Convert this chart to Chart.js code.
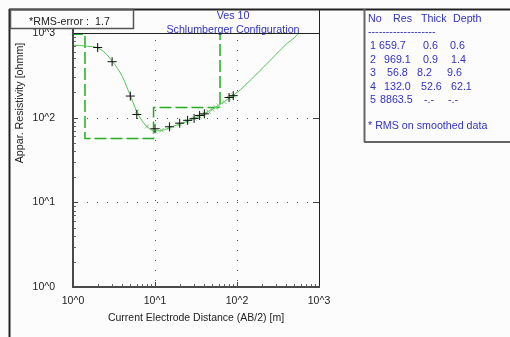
<!DOCTYPE html>
<html><head><meta charset="utf-8">
<script src="https://cdn.jsdelivr.net/npm/chart.js@4"></script>
<style>
html,body{margin:0;padding:0;background:#fff;}
#wrap{position:relative;width:510px;height:337px;background:#fcfcfc;overflow:hidden;font-family:"Liberation Sans",Arial,sans-serif;}
#c{position:absolute;left:0;top:0;}
.t{position:absolute;white-space:pre;font-size:10.7px;line-height:12px;color:#222;}
.b{color:#3232c0;}
</style></head><body>
<div id="wrap">
<canvas id="c" width="510" height="337"></canvas>
</div>
<script>
// ---- data ----
const layerNo = [1, 2, 3, 4, 5];
const layerRes = [659.7, 969.1, 56.8, 132.0, 8863.5];
const layerThick = [0.6, 0.9, 8.2, 52.6];
const layerDepth = [0.6, 1.4, 9.6, 62.1];
const rmsError = 1.7;

const obsAB  = [2, 3, 5, 6, 10, 15, 20, 25, 30, 35, 40, 80, 90];
const obsRho = [674, 458, 180, 109, 74, 78, 86, 93, 98, 106, 111, 173, 182];

const smoothAB  = [6, 8, 10, 12, 15, 20, 25, 30, 35, 40, 45, 50, 55, 60, 70, 80, 90];
const smoothRho = [118, 79, 69, 71, 76, 84, 91, 98, 104, 111, 118, 125, 132, 139, 154, 170, 183];

const curveAB  = [1, 1.2, 1.5, 2, 2.5, 3, 3.5, 4, 4.5, 5, 5.5, 6, 7, 8, 9, 10, 11.5, 13, 15, 20, 25, 30, 40, 50, 60, 80, 100, 150, 200, 300, 400, 500, 600];
const curveRho = [720, 712, 698, 665, 575, 465, 380, 305, 235, 182, 145, 118, 91, 78, 72, 70, 70, 72, 76, 84, 91, 98, 112, 126, 140, 170, 198, 285, 375, 560, 740, 880, 1060];

const axisTicks = [1, 10, 100, 1000];
const tickLabels = ['10^0', '10^1', '10^2', '10^3'];
const minorMult = [2, 3, 4, 5, 6, 7, 8, 9];

// ---- model step line built from the layer arrays ----
const modelPts = [];
let prev = 0.1;
layerRes.forEach((r, i) => {
  const end = i < layerDepth.length ? layerDepth[i] : 100000;
  modelPts.push({x: prev, y: r});
  modelPts.push({x: end, y: r});
  prev = end;
});

const zip = (a, b) => a.map((v, i) => ({x: v, y: b[i]}));

const FONT = 'Liberation Sans';
const framePlugin = {
  id: 'frame',
  beforeDatasetsDraw(chart) {
    const {ctx, chartArea: a, scales: {x, y}} = chart;
    ctx.save();
    ctx.strokeStyle = '#555'; ctx.lineWidth = 1; ctx.setLineDash([1, 9]);
    axisTicks.forEach(v => {
      const px = Math.round(x.getPixelForValue(v)) + 0.5;
      if (px > a.left + 3 && px < a.right - 3) {
        ctx.beginPath(); ctx.moveTo(px, a.bottom - 6); ctx.lineTo(px, a.top); ctx.stroke();
      }
      const py = Math.round(y.getPixelForValue(v)) + 0.5;
      if (py > a.top + 3 && py < a.bottom - 3) {
        ctx.beginPath(); ctx.moveTo(a.left + 14, py); ctx.lineTo(a.right, py); ctx.stroke();
      }
    });
    ctx.restore();
  },
  afterDraw(chart) {
    const {ctx, chartArea: a, scales: {x, y}} = chart;
    ctx.save();
    ctx.setLineDash([]);
    const line = (x1, y1, x2, y2, c, w) => {
      ctx.strokeStyle = c; ctx.lineWidth = w;
      ctx.beginPath(); ctx.moveTo(x1, y1); ctx.lineTo(x2, y2); ctx.stroke();
    };
    // minor & major ticks
    axisTicks.slice(0, 3).forEach(d => {
      minorMult.forEach(m => {
        const px = Math.round(x.getPixelForValue(d * m)) + 0.5;
        line(px, a.bottom, px, a.bottom - 3, '#666', 1);
        const py = Math.round(y.getPixelForValue(d * m)) + 0.5;
        line(a.left, py, a.left + 3, py, '#666', 1);
      });
    });
    axisTicks.forEach(v => {
      const px = Math.round(x.getPixelForValue(v)) + 0.5;
      line(px, a.bottom, px, a.bottom - 5, '#444', 1);
      const py = Math.round(y.getPixelForValue(v)) + 0.5;
      line(a.left, py, a.left + 5, py, '#444', 1);
      if (v > 1 && v < 1000) line(a.right, py, a.right - 6, py, '#444', 1);
    });
    // plot box
    line(a.left, a.top + 0.5, a.right, a.top + 0.5, '#222', 1);
    line(a.right + 0.5, 9, a.right + 0.5, a.bottom, '#222', 1);
    line(a.left, 28, a.left, a.bottom + 1, '#4a4a4a', 2);
    line(a.left - 1, a.bottom, a.right + 1, a.bottom, '#4a4a4a', 2);
    // outer frame
    line(9, 9.5, 510, 9.5, '#222', 2);
    line(9.5, 9, 9.5, 337, '#222', 2);
    // RMS box
    ctx.strokeStyle = '#555'; ctx.lineWidth = 1.5;
    ctx.strokeRect(10.5, 9.5, 123, 19);
    // table panel
    line(364.5, 9, 364.5, 142, '#666', 2);
    line(364, 142, 510, 142, '#666', 2);
    ctx.restore();
  }
};

new Chart(document.getElementById('c'), {
  type: 'scatter',
  data: {
    datasets: [
      {label: 'observed', data: zip(obsAB, obsRho), pointStyle: 'cross', pointRadius: 4.5,
       borderColor: '#111', borderWidth: 1, showLine: false},
      {label: 'smoothed', data: zip(smoothAB, smoothRho), pointStyle: 'crossRot', pointRadius: 3,
       borderColor: '#78cc78', borderWidth: 1, showLine: false},
      {label: 'curve', data: zip(curveAB, curveRho), showLine: true, pointRadius: 0,
       borderColor: '#55c455', borderWidth: 1, cubicInterpolationMode: 'monotone'},
      {label: 'model', data: modelPts, showLine: true, pointRadius: 0,
       borderColor: '#22ae22', borderWidth: 1.5, borderDash: [12, 4], tension: 0}
    ]
  },
  options: {
    responsive: false, animation: false, devicePixelRatio: 1,
    layout: {padding: {left: 0, top: 33, right: 191, bottom: 0}},
    plugins: {legend: {display: false}, tooltip: {enabled: false}},
    scales: {
      x: {
        type: 'logarithmic', min: 1, max: 1000,
        afterBuildTicks: s => { s.ticks = axisTicks.map(v => ({value: v})); },
        afterFit: s => { s.height = 50; },
        grid: {display: false, drawTicks: false}, border: {display: false},
        ticks: {padding: 8, color: '#222', font: {family: FONT, size: 10.5}, maxRotation: 0,
                callback: (v) => tickLabels[axisTicks.indexOf(v)]},
        title: {display: true, text: 'Current Electrode Distance (AB/2) [m]', color: '#222',
                font: {family: FONT, size: 10.5}, padding: {top: 0, bottom: 13}}
      },
      y: {
        type: 'logarithmic', min: 1, max: 1000,
        afterBuildTicks: s => { s.ticks = axisTicks.map(v => ({value: v})); },
        afterFit: s => { s.width = 73; },
        grid: {display: false, drawTicks: false}, border: {display: false},
        ticks: {padding: 18, color: '#222', font: {family: FONT, size: 10.5},
                callback: (v) => tickLabels[axisTicks.indexOf(v)]}
      }
    }
  },
  plugins: [framePlugin]
});

// ---- text overlays ----
const wrap = document.getElementById('wrap');
function txt(s, left, cy, cls, extra) {
  const d = document.createElement('div');
  d.className = 't' + (cls ? ' ' + cls : '');
  d.textContent = s;
  d.style.left = left + 'px';
  d.style.top = (cy - 6) + 'px';
  if (extra) Object.assign(d.style, extra);
  wrap.appendChild(d);
  return d;
}
txt('*RMS-error :', 29, 20.5);
txt(rmsError.toFixed(1), 95, 20.5);
txt('Ves 10', 133, 15, 'b', {width: '200px', textAlign: 'center'});
txt('Schlumberger Configuration', 133, 29, 'b', {width: '200px', textAlign: 'center'});
txt('Appar. Resistivity [ohmm]', -81.5, 103, '', {width: '200px', textAlign: 'center', transform: 'rotate(-90deg)'});

txt('No', 368, 18, 'b'); txt('Res', 393, 18, 'b'); txt('Thick', 421, 18, 'b'); txt('Depth', 453, 18, 'b');
txt('-------------------', 368, 31, 'b');
const rowY = [45, 58.5, 72, 85.5, 99];
const resLeft = [379, 384, 387, 384, 380];
const thickLeft = [423, 423, 417, 421, 424];
const depthLeft = [450, 451, 447, 451, 448];
layerNo.forEach((n, i) => {
  txt(String(n), 370, rowY[i], 'b');
  txt(layerRes[i].toFixed(1), resLeft[i], rowY[i], 'b');
  txt(i < layerThick.length ? layerThick[i].toFixed(1) : '-.-', thickLeft[i], rowY[i], 'b');
  txt(i < layerDepth.length ? layerDepth[i].toFixed(1) : '-.-', depthLeft[i], rowY[i], 'b');
});
txt('* RMS on smoothed data', 368, 125, 'b');
</script>
</body></html>
